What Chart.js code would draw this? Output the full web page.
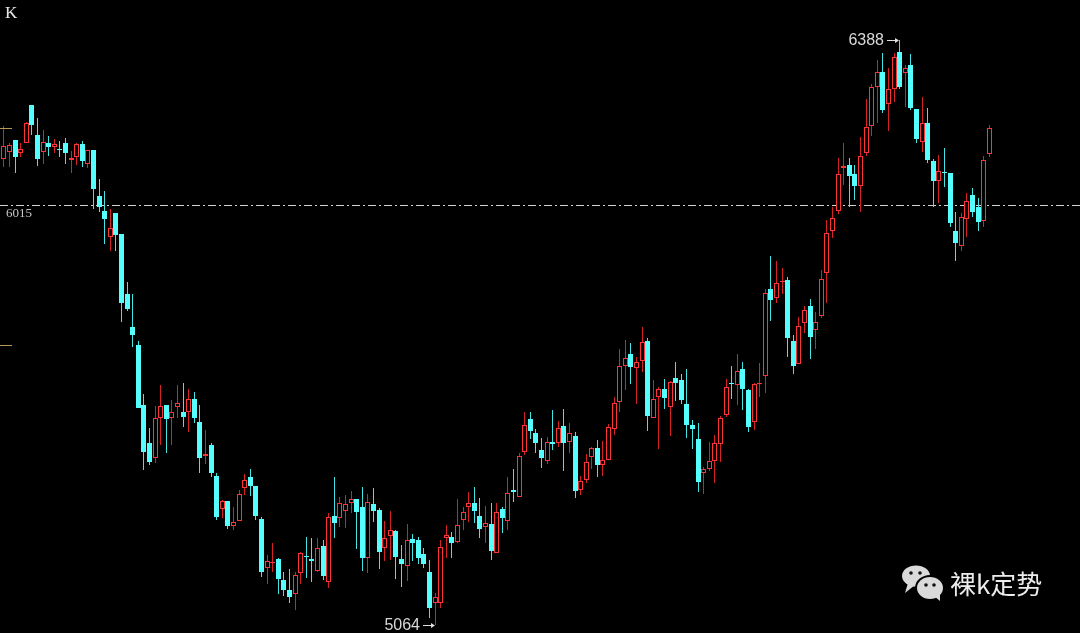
<!DOCTYPE html>
<html>
<head>
<meta charset="utf-8">
<script src="https://cdn.jsdelivr.net/npm/chart.js@4"></script>
<style>
  html, body { margin: 0; padding: 0; background: #000; overflow: hidden; }
  canvas { display: block; }
</style>
</head>
<body>
<canvas id="kline" width="1080" height="633"></canvas>
<script>
// daily candles, oldest first
var opens = [
  6119, 6134, 6162, 6132, 6155, 6241, 6173, 6134, 6155, 6146,
  6141, 6155, 6116, 6123, 6153, 6107, 6139, 6035, 6001, 5942,
  5996, 5949, 5813, 5738, 5698, 5562, 5476, 5442, 5532, 5562,
  5532, 5557, 5546, 5546, 5575, 5523, 5446, 5471, 5401, 5327,
  5345, 5288, 5299, 5374, 5399, 5379, 5304, 5193, 5204, 5213,
  5166, 5143, 5134, 5182, 5220, 5213, 5186, 5243, 5161, 5311,
  5306, 5322, 5340, 5349, 5331, 5216, 5338, 5324, 5238, 5265,
  5277, 5213, 5198, 5259, 5256, 5225, 5184, 5114, 5114, 5261,
  5263, 5252, 5302, 5331, 5340, 5311, 5286, 5293, 5227, 5327,
  5299, 5370, 5354, 5456, 5530, 5499, 5460, 5435, 5478, 5476,
  5514, 5478, 5492, 5370, 5392, 5444, 5465, 5426, 5437, 5508,
  5569, 5650, 5677, 5646, 5661, 5707, 5532, 5580, 5598, 5557,
  5623, 5618, 5564, 5517, 5485, 5408, 5417, 5435, 5474, 5539,
  5612, 5607, 5643, 5596, 5523, 5609, 5628, 5824, 5804, 5840,
  5845, 5707, 5655, 5747, 5786, 5732, 5763, 5861, 5956, 6001,
  6098, 6105, 6085, 6058, 6132, 6193, 6282, 6316, 6243, 6277,
  6361, 6313, 6331, 6232, 6157, 6200, 6114, 6069, 6089, 6087,
  5956, 5922, 5983, 6037, 6010, 5978, 6130
];
var highs = [
  6193, 6155, 6162, 6155, 6202, 6241, 6211, 6184, 6171, 6164,
  6159, 6166, 6137, 6155, 6159, 6139, 6139, 6073, 6046, 6005,
  5996, 5949, 5840, 5813, 5707, 5587, 5510, 5560, 5607, 5562,
  5573, 5607, 5612, 5598, 5591, 5562, 5505, 5476, 5408, 5347,
  5345, 5331, 5370, 5406, 5417, 5379, 5308, 5222, 5250, 5216,
  5184, 5191, 5184, 5229, 5263, 5261, 5261, 5256, 5317, 5399,
  5354, 5358, 5367, 5349, 5376, 5360, 5374, 5329, 5299, 5322,
  5279, 5245, 5293, 5270, 5263, 5238, 5211, 5136, 5256, 5290,
  5274, 5349, 5331, 5365, 5376, 5351, 5333, 5340, 5340, 5331,
  5399, 5417, 5453, 5546, 5546, 5508, 5487, 5489, 5551, 5526,
  5553, 5521, 5501, 5401, 5451, 5467, 5483, 5480, 5519, 5580,
  5689, 5709, 5702, 5671, 5738, 5714, 5618, 5603, 5621, 5616,
  5659, 5632, 5643, 5528, 5521, 5422, 5478, 5494, 5537, 5621,
  5650, 5677, 5659, 5598, 5612, 5657, 5824, 5899, 5888, 5872,
  5852, 5720, 5761, 5786, 5802, 5772, 5867, 5981, 6010, 6121,
  6155, 6121, 6105, 6168, 6254, 6288, 6343, 6359, 6325, 6359,
  6388, 6331, 6356, 6232, 6259, 6234, 6119, 6128, 6144, 6087,
  5999, 5996, 6042, 6053, 6030, 6125, 6196
];
var lows = [
  6101, 6101, 6087, 6123, 6155, 6173, 6103, 6107, 6125, 6132,
  6123, 6107, 6087, 6105, 6101, 6098, 6005, 5999, 5926, 5910,
  5910, 5750, 5775, 5693, 5603, 5415, 5426, 5431, 5471, 5453,
  5471, 5532, 5512, 5501, 5521, 5408, 5428, 5399, 5302, 5306,
  5281, 5279, 5299, 5358, 5356, 5302, 5173, 5157, 5184, 5134,
  5130, 5114, 5098, 5157, 5170, 5161, 5184, 5166, 5148, 5261,
  5286, 5284, 5317, 5236, 5186, 5182, 5297, 5191, 5209, 5211,
  5168, 5150, 5164, 5209, 5202, 5193, 5080, 5064, 5102, 5216,
  5216, 5250, 5279, 5297, 5295, 5261, 5250, 5211, 5227, 5272,
  5279, 5342, 5354, 5449, 5485, 5453, 5419, 5428, 5460, 5467,
  5413, 5453, 5351, 5358, 5385, 5417, 5399, 5401, 5437, 5494,
  5546, 5596, 5609, 5564, 5637, 5503, 5532, 5462, 5553, 5492,
  5571, 5564, 5487, 5462, 5365, 5360, 5413, 5385, 5433, 5535,
  5575, 5562, 5551, 5501, 5505, 5580, 5589, 5752, 5793, 5813,
  5671, 5632, 5655, 5725, 5666, 5689, 5759, 5793, 5940, 5994,
  6060, 6010, 6026, 5999, 6125, 6171, 6200, 6223, 6182, 6248,
  6277, 6236, 6230, 6155, 6134, 6110, 6010, 6019, 6055, 5965,
  5888, 5910, 5942, 5987, 5956, 5965, 6123
];
var closes = [
  6148, 6150, 6123, 6141, 6200, 6196, 6119, 6157, 6146, 6153,
  6139, 6132, 6121, 6153, 6114, 6139, 6051, 6010, 5983, 5962,
  5947, 5793, 5779, 5720, 5555, 5456, 5433, 5532, 5560, 5530,
  5546, 5566, 5535, 5575, 5532, 5442, 5451, 5408, 5308, 5345,
  5288, 5297, 5360, 5392, 5379, 5311, 5184, 5209, 5207, 5168,
  5143, 5127, 5177, 5227, 5218, 5209, 5238, 5175, 5308, 5295,
  5340, 5338, 5349, 5320, 5216, 5342, 5322, 5229, 5261, 5279,
  5218, 5202, 5256, 5250, 5216, 5202, 5102, 5127, 5241, 5268,
  5250, 5290, 5320, 5340, 5322, 5281, 5295, 5231, 5320, 5306,
  5363, 5365, 5446, 5517, 5503, 5476, 5442, 5478, 5474, 5510,
  5476, 5499, 5367, 5390, 5433, 5465, 5426, 5437, 5512, 5566,
  5650, 5668, 5648, 5659, 5704, 5537, 5575, 5598, 5578, 5614,
  5612, 5573, 5517, 5508, 5388, 5417, 5435, 5476, 5532, 5603,
  5609, 5639, 5598, 5512, 5609, 5612, 5815, 5800, 5838, 5843,
  5714, 5650, 5741, 5777, 5716, 5750, 5847, 5951, 5985, 6085,
  6103, 6080, 6058, 6125, 6191, 6282, 6316, 6230, 6277, 6350,
  6282, 6325, 6234, 6164, 6200, 6116, 6069, 6091, 6087, 5974,
  5929, 5987, 6024, 5999, 5976, 6116, 6189
];
var refLevel = 6015;          // dash-dot line
var sideTicks = [6189, 5698]; // little marks on the left edge

var UP = '#ff3434', UP_WICK = '#d62222';
var DOWN = '#55ffff', DOWN_WICK = '#44e4e4';

var up = closes.map(function (c, i) { return c >= opens[i]; });
var bodies = closes.map(function (c, i) { return { x: i, y: [opens[i], c] }; });
var wicks = lows.map(function (l, i) { return { x: i, y: [l, highs[i]] }; });

var hiIdx = highs.indexOf(Math.max.apply(null, highs));
var loIdx = lows.indexOf(Math.min.apply(null, lows));

function bubble(ctx, cx, cy, rx, ry, tail) {
  ctx.beginPath();
  ctx.ellipse(cx, cy, rx, ry, 0, 0, Math.PI * 2);
  ctx.fill();
  ctx.beginPath();
  ctx.moveTo(tail[0], tail[1]);
  ctx.lineTo(tail[2], tail[3]);
  ctx.lineTo(tail[4], tail[5]);
  ctx.closePath();
  ctx.fill();
}

// snap candles to whole pixels so bodies and wicks stay sharp
var snap = {
  id: 'snap',
  afterDatasetsUpdate: function (chart) {
    chart.data.datasets.forEach(function (ds, d) {
      chart.getDatasetMeta(d).data.forEach(function (el) {
        el.x = Math.floor(el.x) + 0.5;
        var top = Math.round(Math.min(el.y, el.base));
        var bot = Math.round(Math.max(el.y, el.base));
        if (bot - top < 1) bot = top + 1;
        el.y = top;
        el.base = bot;
        el.height = bot - top;
      });
    });
  }
};

var overlay = {
  id: 'overlay',
  beforeDatasetsDraw: function (chart) {
    var ctx = chart.ctx, ys = chart.scales.y;
    var y = Math.round(ys.getPixelForValue(refLevel)) + 0.5;
    ctx.save();
    ctx.strokeStyle = '#d2d2d2';
    ctx.lineWidth = 1;
    ctx.setLineDash([8, 3, 2, 3]);
    ctx.beginPath();
    ctx.moveTo(0, y);
    ctx.lineTo(chart.width, y);
    ctx.stroke();
    ctx.restore();
  },
  afterDatasetsDraw: function (chart) {
    var ctx = chart.ctx, xs = chart.scales.x, ys = chart.scales.y;
    ctx.save();

    // level label under the line
    ctx.fillStyle = '#c8c8c8';
    ctx.font = '13px "Liberation Serif"';
    ctx.textBaseline = 'middle';
    ctx.textAlign = 'left';
    ctx.fillText(String(refLevel), 6, Math.round(ys.getPixelForValue(refLevel)) + 9);

    // K in the corner
    ctx.fillStyle = '#e6e6e6';
    ctx.font = '17px "Liberation Serif"';
    ctx.fillText('K', 5, 14);

    // left edge marks
    ctx.strokeStyle = '#b89858';
    ctx.lineWidth = 1;
    sideTicks.forEach(function (v) {
      var y = Math.round(ys.getPixelForValue(v)) + 0.5;
      ctx.beginPath();
      ctx.moveTo(0, y);
      ctx.lineTo(12, y);
      ctx.stroke();
    });

    // extreme labels with arrows
    function mark(idx, val) {
      var x = Math.floor(xs.getPixelForValue(idx)) - 1;
      var y = Math.round(ys.getPixelForValue(val)) + 0.5;
      ctx.strokeStyle = '#e0e0e0';
      ctx.fillStyle = '#e0e0e0';
      ctx.beginPath();
      ctx.moveTo(x - 11, y);
      ctx.lineTo(x, y);
      ctx.stroke();
      ctx.beginPath();
      ctx.moveTo(x + 1, y);
      ctx.lineTo(x - 3, y - 2.5);
      ctx.lineTo(x - 3, y + 2.5);
      ctx.closePath();
      ctx.fill();
      ctx.font = '16px "Liberation Sans"';
      ctx.textAlign = 'right';
      ctx.fillStyle = '#d8d8d8';
      ctx.fillText(String(val), x - 14, y);
    }
    mark(hiIdx, highs[hiIdx]);
    mark(loIdx, lows[loIdx]);

    // watermark
    ctx.fillStyle = '#dadada';
    bubble(ctx, 916, 576, 14, 10.5, [908, 583, 915, 585, 905, 593]);
    ctx.fillStyle = '#000';
    ctx.beginPath();
    ctx.ellipse(930, 588, 15, 13, 0, 0, Math.PI * 2);
    ctx.fill();
    ctx.fillStyle = '#dadada';
    bubble(ctx, 930, 588, 13, 11, [934, 596, 940, 594, 940, 601]);
    ctx.fillStyle = '#111';
    [[911, 573], [920, 573], [926, 585], [934, 585]].forEach(function (p) {
      ctx.beginPath();
      ctx.arc(p[0], p[1], 1.8, 0, Math.PI * 2);
      ctx.fill();
    });
    ctx.fillStyle = '#ececec';
    ctx.font = '26px "Noto Sans CJK SC"';
    ctx.textAlign = 'left';
    ctx.textBaseline = 'middle';
    ctx.fillText('裸k定势', 950, 584);

    ctx.restore();
  }
};

var ctx = document.getElementById('kline').getContext('2d');
var chart = new Chart(ctx, {
  type: 'bar',
  data: {
    datasets: [{
      label: 'body',
      data: bodies,
      order: 0,
      grouped: false,
      barThickness: 5,
      borderWidth: 1,
      borderSkipped: false,
      inflateAmount: 0,
      backgroundColor: up.map(function (u) { return u ? '#000000' : DOWN; }),
      borderColor: up.map(function (u) { return u ? UP : DOWN; })
    }, {
      label: 'wick',
      data: wicks,
      order: 1,
      grouped: false,
      barThickness: 1,
      borderWidth: 0,
      inflateAmount: 0,
      backgroundColor: up.map(function (u) { return u ? UP_WICK : DOWN_WICK; })
    }]
  },
  options: {
    responsive: false,
    animation: false,
    events: [],
    layout: { padding: 0 },
    plugins: { legend: { display: false }, tooltip: { enabled: false } },
    scales: {
      x: { type: 'linear', display: false, offset: false, min: -0.7145, max: 192.21 },
      y: { type: 'linear', display: false, min: 5045.9, max: 6478.5 }
    }
  },
  plugins: [snap, overlay]
});
</script>
</body>
</html>
